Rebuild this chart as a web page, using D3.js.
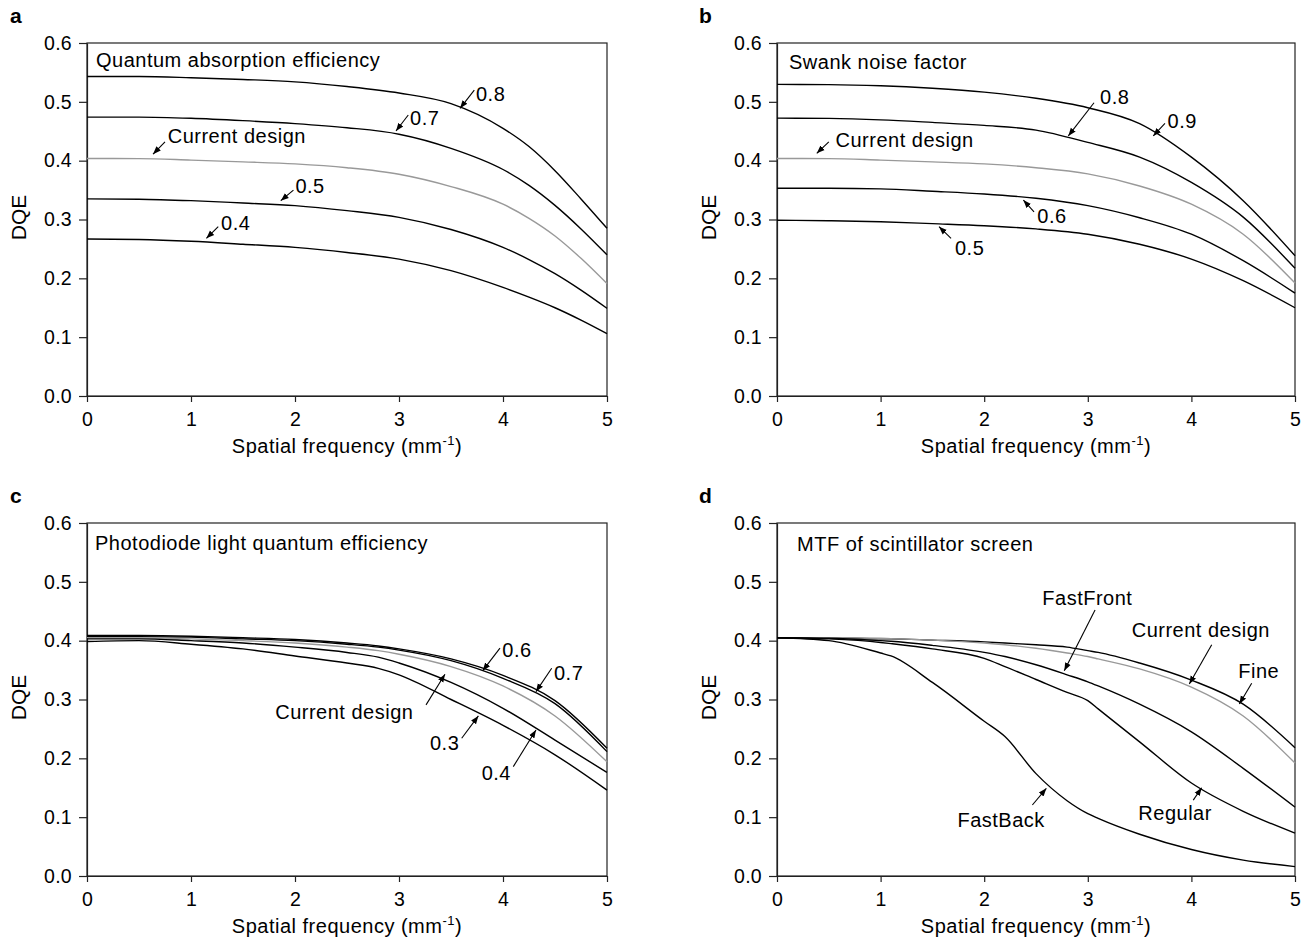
<!DOCTYPE html>
<html>
<head>
    <title>DQE versus spatial frequency</title>
    <script src="https://d3js.org/d3.v7.min.js"></script>
    <style>
        body { margin: 0; background: #fff; }
        text { font-family: "Liberation Sans", Arial, sans-serif; fill: #000; }
        .tick text { font-size: 19.5px; letter-spacing: 0.3px; }
        .tick line, .domain { stroke: #222; stroke-width: 1.2px; }
        .lbl { font-size: 20px; letter-spacing: 0.5px; }
    </style>
</head>
<body>
<div id="svg"></div>
<script>
    var xTicks = [0, 1, 2, 3, 4, 5];
    var yTicks = [0, 0.1, 0.2, 0.3, 0.4, 0.5, 0.6];

    // a: quantum absorption efficiency
    var freqA = [0, 0.5, 1, 1.5, 2, 2.5, 3, 3.5, 4, 4.25, 4.5, 4.75, 5];
    var absorb08 = [0.543, 0.543, 0.541, 0.538, 0.534, 0.526, 0.515, 0.497, 0.455, 0.424, 0.383, 0.335, 0.285];
    var absorb07 = [0.474, 0.474, 0.472, 0.468, 0.463, 0.456, 0.445, 0.421, 0.385, 0.358, 0.324, 0.284, 0.240];
    var absorbCur = [0.4036, 0.4035, 0.401, 0.398, 0.3945, 0.388, 0.377, 0.356, 0.326, 0.302, 0.272, 0.234, 0.191];
    var absorb05 = [0.335, 0.3345, 0.332, 0.328, 0.3236, 0.315, 0.3037, 0.283, 0.2526, 0.232, 0.208, 0.180, 0.149];
    var absorb04 = [0.2668, 0.266, 0.263, 0.258, 0.2526, 0.244, 0.2327, 0.213, 0.1845, 0.168, 0.150, 0.129, 0.106];

    // b: swank noise factor
    var freqB = [0, 0.5, 1, 1.5, 2, 2.5, 3, 3.5, 4, 4.5, 5];
    var swank09 = [0.5296, 0.5293, 0.5273, 0.523, 0.5165, 0.506, 0.490, 0.463, 0.406, 0.332, 0.2384];
    var swank08 = [0.4723, 0.4718, 0.4694, 0.465, 0.460, 0.452, 0.431, 0.406, 0.363, 0.304, 0.217];
    var swankCur = [0.4036, 0.4035, 0.401, 0.398, 0.3945, 0.388, 0.3775, 0.357, 0.326, 0.275, 0.192];
    var swank06 = [0.353, 0.353, 0.352, 0.348, 0.3434, 0.336, 0.3236, 0.303, 0.275, 0.230, 0.175];
    var swank05 = [0.2986, 0.298, 0.2963, 0.293, 0.2895, 0.284, 0.275, 0.258, 0.2327, 0.196, 0.150];

    // c: photodiode light quantum efficiency
    var freqC = [0, 0.5, 1, 1.5, 2, 2.5, 2.8, 3, 3.5, 4, 4.5, 5];
    var photo07 = [0.409, 0.4088, 0.4075, 0.405, 0.402, 0.396, 0.391, 0.386, 0.369, 0.341, 0.298, 0.217];
    var photo06 = [0.407, 0.4068, 0.406, 0.403, 0.400, 0.394, 0.389, 0.384, 0.366, 0.336, 0.293, 0.2114];
    var photoCur = [0.405, 0.4045, 0.403, 0.400, 0.396, 0.389, 0.383, 0.377, 0.356, 0.323, 0.272, 0.194];
    var photo04 = [0.403, 0.403, 0.400, 0.396, 0.389, 0.380, 0.372, 0.362, 0.329, 0.285, 0.231, 0.176];
    var photo03 = [0.3985, 0.400, 0.394, 0.386, 0.374, 0.362, 0.353, 0.342, 0.300, 0.256, 0.206, 0.146];

    // d: MTF of scintillator screen
    var freqD = [0, 0.5, 1, 1.1, 1.5, 2, 2.2, 2.5, 2.8, 3, 3.1, 3.5, 4, 4.5, 5];
    var mtfFine = [0.405, 0.405, 0.403, 0.403, 0.401, 0.398, 0.396, 0.393, 0.389, 0.383, 0.380, 0.362, 0.333, 0.292, 0.218];
    var mtfCur = [0.405, 0.405, 0.404, 0.4035, 0.401, 0.396, 0.393, 0.387, 0.379, 0.373, 0.369, 0.352, 0.321, 0.272, 0.192];
    var mtfFastFront = [0.405, 0.404, 0.400, 0.399, 0.392, 0.380, 0.373, 0.359, 0.342, 0.330, 0.323, 0.292, 0.245, 0.183, 0.117];
    var mtfRegular = [0.405, 0.403, 0.397, 0.395, 0.386, 0.370, 0.356, 0.334, 0.312, 0.298, 0.284, 0.228, 0.158, 0.110, 0.073];
    var mtfFastBack = [0.405, 0.400, 0.379, 0.374, 0.329, 0.263, 0.237, 0.174, 0.128, 0.106, 0.098, 0.071, 0.045, 0.027, 0.016];

    // labels with arrows, in data units: text start, arrow tail, arrow tip
    var notesA = [
        { text: "0.8", at: [3.74, 0.502], from: [3.724, 0.520], to: [3.587, 0.489] },
        { text: "0.7", at: [3.106, 0.4606], from: [3.089, 0.4776], to: [2.971, 0.4504] },
        { text: "Current design", at: [0.776, 0.4295], from: [0.75, 0.432], to: [0.635, 0.411] },
        { text: "0.5", at: [2.004, 0.3456], from: [1.985, 0.350], to: [1.863, 0.332] },
        { text: "0.4", at: [1.289, 0.2822], from: [1.262, 0.2878], to: [1.148, 0.268] }
    ];
    var notesB = [
        { text: "0.8", at: [3.118, 0.496], from: [3.06, 0.4985], to: [2.812, 0.4421] },
        { text: "0.9", at: [3.77, 0.4555], from: [3.745, 0.4635], to: [3.632, 0.442] },
        { text: "Current design", at: [0.565, 0.4238], from: [0.5, 0.432], to: [0.384, 0.4125] },
        { text: "0.6", at: [2.513, 0.2935], from: [2.481, 0.313], to: [2.378, 0.333] },
        { text: "0.5", at: [1.718, 0.240], from: [1.680, 0.268], to: [1.564, 0.2878] }
    ];
    var notesC = [
        { text: "0.6", at: [3.993, 0.373], from: [3.971, 0.3872], to: [3.805, 0.349] },
        { text: "0.7", at: [4.490, 0.3333], from: [4.468, 0.3532], to: [4.317, 0.3134] },
        { text: "Current design", at: [1.81, 0.2665], from: [3.26, 0.2908], to: [3.442, 0.343] },
        { text: "0.3", at: [3.298, 0.2143], from: [3.603, 0.2342], to: [3.763, 0.2721] },
        { text: "0.4", at: [3.795, 0.1633], from: [4.099, 0.1859], to: [4.317, 0.2483] }
    ];
    var notesD = [
        { text: "FastFront", at: [2.561, 0.4609], from: [3.07, 0.452], to: [2.773, 0.349] },
        { text: "Current design", at: [3.424, 0.407], from: [4.196, 0.3929], to: [3.98, 0.3265] },
        { text: "Fine", at: [4.453, 0.336], from: [4.582, 0.3277], to: [4.463, 0.2925] },
        { text: "Regular", at: [3.488, 0.0952], from: [4.018, 0.129], to: [4.099, 0.150] },
        { text: "FastBack", at: [1.742, 0.0839], from: [2.465, 0.1207], to: [2.6, 0.149] }
    ];

    var black = "#000", grey = "#999";

    var panels = [
        { letter: "a", title: "Quantum absorption efficiency", left: 87, top: 43, width: 520, titleX: 9, titleY: 24,
          freq: freqA, series: [[absorb08, black], [absorb07, black], [absorbCur, grey], [absorb05, black], [absorb04, black]], notes: notesA },
        { letter: "b", title: "Swank noise factor", left: 777, top: 43, width: 518, titleX: 12, titleY: 26,
          freq: freqB, series: [[swank09, black], [swank08, black], [swankCur, grey], [swank06, black], [swank05, black]], notes: notesB },
        { letter: "c", title: "Photodiode light quantum efficiency", left: 87, top: 523, width: 520, titleX: 8, titleY: 27,
          freq: freqC, series: [[photo07, black], [photo06, black], [photoCur, grey], [photo04, black], [photo03, black]], notes: notesC },
        { letter: "d", title: "MTF of scintillator screen", left: 777, top: 523, width: 518, titleX: 20, titleY: 28,
          freq: freqD, series: [[mtfFine, black], [mtfCur, grey], [mtfFastFront, black], [mtfRegular, black], [mtfFastBack, black]], notes: notesD }
    ];
    var height = 353;

    var svg = d3.select("#svg")
        .append("svg")
        .attr("width", 1316)
        .attr("height", 949);

    svg.append("defs").append("marker")
        .attr("id", "head")
        .attr("viewBox", "0 0 10 10")
        .attr("refX", 10)
        .attr("refY", 5)
        .attr("markerWidth", 8)
        .attr("markerHeight", 8)
        .attr("markerUnits", "userSpaceOnUse")
        .attr("orient", "auto")
        .append("path")
        .attr("d", "M0,1.2L10,5L0,8.8z")
        .style("fill", "#000");

    panels.forEach(function (p) {
        var g = svg.append("g")
            .attr("transform", "translate(" + p.left + "," + p.top + ")");

        var x = d3.scaleLinear().domain([0, 5]).range([0, p.width]);
        var y = d3.scaleLinear().domain([0, 0.6]).range([height, 0]);

        g.append("g")
            .attr("transform", "translate(0," + height + ")")
            .call(d3.axisBottom(x).tickValues(xTicks).tickFormat(d3.format("d")).tickSize(6).tickSizeOuter(0).tickPadding(10));
        g.append("g")
            .call(d3.axisLeft(y).tickValues(yTicks).tickFormat(d3.format(".1f")).tickSize(8).tickSizeOuter(0).tickPadding(7));

        g.append("rect")
            .attr("width", p.width)
            .attr("height", height)
            .style("fill", "none")
            .style("stroke", "#222")
            .style("stroke-width", 1.2);

        var line = d3.line()
            .x(function (d, i) { return x(p.freq[i]); })
            .y(function (d) { return y(d); })
            .curve(d3.curveMonotoneX);

        g.selectAll("path.curve")
            .data(p.series)
            .enter()
            .append("path")
            .attr("class", "curve")
            .attr("d", function (s) { return line(s[0]); })
            .style("fill", "none")
            .style("stroke", function (s) { return s[1]; })
            .style("stroke-width", 1.4);

        g.selectAll("line.note")
            .data(p.notes)
            .enter()
            .append("line")
            .attr("class", "note")
            .attr("x1", function (n) { return x(n.from[0]); })
            .attr("y1", function (n) { return y(n.from[1]); })
            .attr("x2", function (n) { return x(n.to[0]); })
            .attr("y2", function (n) { return y(n.to[1]); })
            .style("stroke", "#000")
            .style("stroke-width", 1.1)
            .attr("marker-end", "url(#head)");

        g.selectAll("text.note")
            .data(p.notes)
            .enter()
            .append("text")
            .attr("class", "note lbl")
            .attr("x", function (n) { return x(n.at[0]); })
            .attr("y", function (n) { return y(n.at[1]); })
            .text(function (n) { return n.text; });

        g.append("text")
            .attr("class", "lbl")
            .attr("x", p.titleX)
            .attr("y", p.titleY)
            .text(p.title);

        var xl = g.append("text")
            .attr("class", "lbl")
            .attr("x", p.width / 2)
            .attr("y", height + 57)
            .style("text-anchor", "middle");
        xl.append("tspan").text("Spatial frequency (mm");
        xl.append("tspan").attr("dy", -8).style("font-size", "13px").text("-1");
        xl.append("tspan").attr("dy", 8).text(")");

        g.append("text")
            .attr("transform", "translate(-61," + (height / 2 - 2) + ") rotate(-90)")
            .style("text-anchor", "middle")
            .style("font-size", "21px")
            .text("DQE");

        g.append("text")
            .attr("x", p.letter === "a" || p.letter === "c" ? -77 : -78)
            .attr("y", -20)
            .style("font-weight", "bold")
            .style("font-size", "21px")
            .text(p.letter);
    });
</script>
</body>
</html>
